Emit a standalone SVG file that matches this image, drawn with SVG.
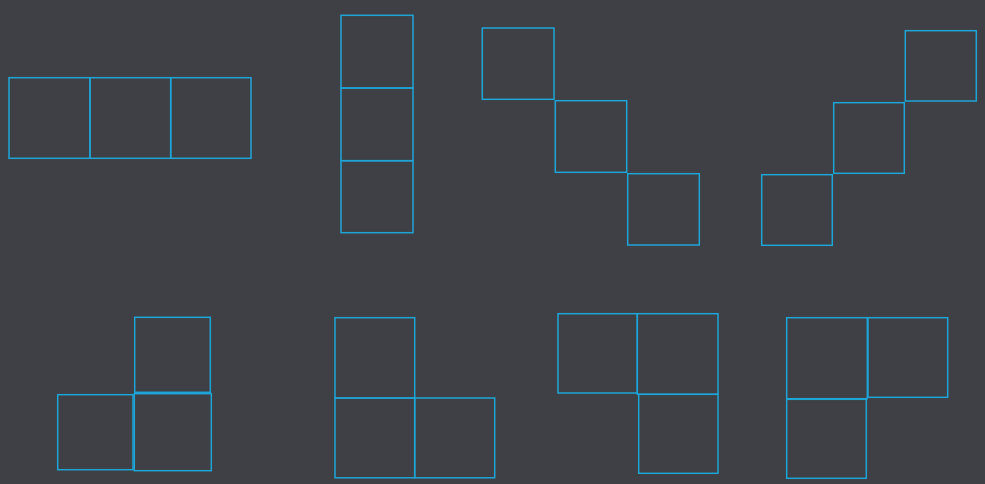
<svg xmlns="http://www.w3.org/2000/svg" width="985" height="484" viewBox="0 0 985 484">
<style>
.c{fill:none;stroke:#1ea5d8;stroke-width:1.5}
</style>
<rect width="985" height="484" fill="#3f4045"/>
<g id="shape-i-horizontal">
<rect class="c" x="9" y="77.7" width="81" height="80.6"/>
<rect class="c" x="90" y="77.7" width="80.7" height="80.6"/>
<rect class="c" x="170.7" y="77.7" width="80.3" height="80.6"/>
</g>
<g id="shape-i-vertical">
<rect class="c" x="341" y="15.3" width="72" height="72.7"/>
<rect class="c" x="341" y="88" width="72" height="72.7"/>
<rect class="c" x="341" y="160.7" width="72" height="72"/>
</g>
<g id="shape-diag-down">
<rect class="c" x="482.3" y="28" width="71.7" height="71.3"/>
<rect class="c" x="555.3" y="100.7" width="71.4" height="71.6"/>
<rect class="c" x="627.7" y="173.7" width="71.6" height="71.3"/>
</g>
<g id="shape-diag-up">
<rect class="c" x="905.3" y="30.7" width="71" height="70.3"/>
<rect class="c" x="833.7" y="102.7" width="70.6" height="70.6"/>
<rect class="c" x="761.7" y="174.7" width="70.6" height="70.6"/>
</g>
<g id="shape-l1">
<rect class="c" x="134.7" y="317.3" width="75.6" height="75"/>
<rect class="c" x="57.7" y="394.7" width="75.3" height="75"/>
<rect class="c" x="134.3" y="393.7" width="77" height="77"/>
</g>
<g id="shape-l2">
<rect class="c" x="335" y="317.7" width="79.7" height="80.3"/>
<rect class="c" x="335" y="398" width="79.7" height="79.8"/>
<rect class="c" x="414.7" y="398" width="80" height="79.8"/>
</g>
<g id="shape-l3">
<rect class="c" x="558" y="313.7" width="79.3" height="79.3"/>
<rect class="c" x="637.3" y="313.7" width="80.7" height="80.6"/>
<rect class="c" x="638.7" y="394.3" width="79.3" height="79"/>
</g>
<g id="shape-l4">
<rect class="c" x="786.7" y="317.7" width="80.6" height="81"/>
<rect class="c" x="868" y="317.7" width="79.7" height="79.6"/>
<rect class="c" x="786.7" y="399.3" width="79.6" height="79"/>
</g>
</svg>
